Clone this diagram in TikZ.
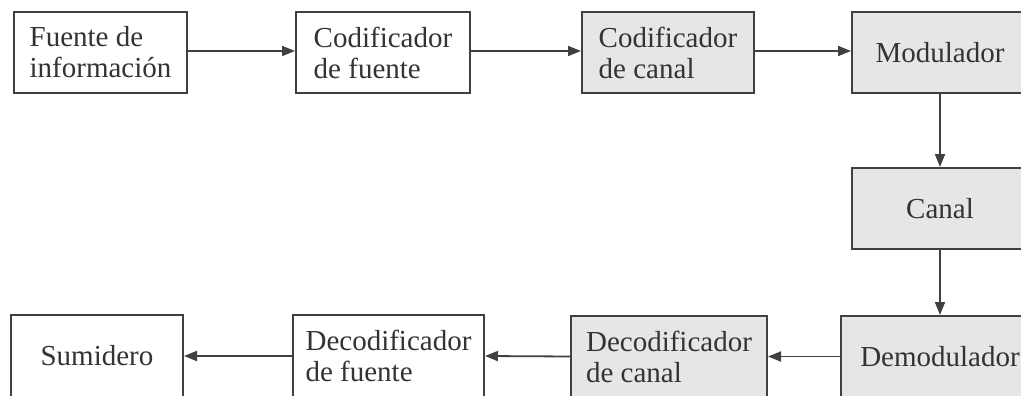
\documentclass[tikz,border=0pt]{standalone}
\usepackage{fontspec}
\setmainfont{Liberation Serif}
\usetikzlibrary{arrows.meta,calc}
\definecolor{ink}{HTML}{333333}
\definecolor{edge}{HTML}{404040}
\definecolor{boxgray}{HTML}{E5E6E8}
\tikzset{
  blk/.style={draw=edge, line width=2pt, rectangle, inner sep=0pt, align=left,
     text=ink, font=\fontsize{29}{31}\selectfont},
  wbox/.style={blk, fill=white},
  gbox/.style={blk, fill=boxgray},
  conn/.style={draw=edge, line width=1.8pt, -{Triangle[length=13pt,width=10pt]}}
}
\begin{document}
\begin{tikzpicture}[x=1pt,y=-1pt]
\useasboundingbox (0,0) rectangle (1021,396);
% top row
\node[wbox, minimum width=173pt, minimum height=81pt] (src) at (100.5,52.5) {Fuente de\\información};
\node[wbox, minimum width=174pt, minimum height=81pt] (senc) at (383,52.5) {Codificador\\de fuente};
\node[gbox, minimum width=172pt, minimum height=81pt] (cenc) at (668,52.5) {Codificador\\de canal};
\node[gbox, minimum width=176pt, minimum height=81pt] (mod) at (940,52.5) {Modulador};
% channel
\node[gbox, minimum width=176pt, minimum height=81pt] (chan) at (940,208.5) {Canal};
% bottom row
\node[gbox, minimum width=198pt, minimum height=81pt] (dem) at (940,356.5) {Demodulador};
\node[gbox, minimum width=196pt, minimum height=81pt] (cdec) at (669,356.5) {Decodificador\\de canal};
\node[wbox, minimum width=191pt, minimum height=82pt] (sdec) at (388.5,356) {Decodificador\\de fuente};
\node[wbox, minimum width=172pt, minimum height=82pt] (sink) at (97,356) {Sumidero};
% connectors
\draw[conn] ($(src.east)+(0,-1.5)$) -- ($(senc.west)+(0,-1.5)$);
\draw[conn] ($(senc.east)+(0,-1.5)$) -- ($(cenc.west)+(0,-1.5)$);
\draw[conn] ($(cenc.east)+(0,-1.5)$) -- ($(mod.west)+(0,-1.5)$);
\draw[conn] (mod.south) -- (chan.north);
\draw[conn] (chan.south) -- (dem.north);
\draw[conn] (dem.west) -- (cdec.east);
\draw[conn] (cdec.west) -- (sdec.east);
\draw[conn] (sdec.west) -- (sink.east);
\end{tikzpicture}
\end{document}
